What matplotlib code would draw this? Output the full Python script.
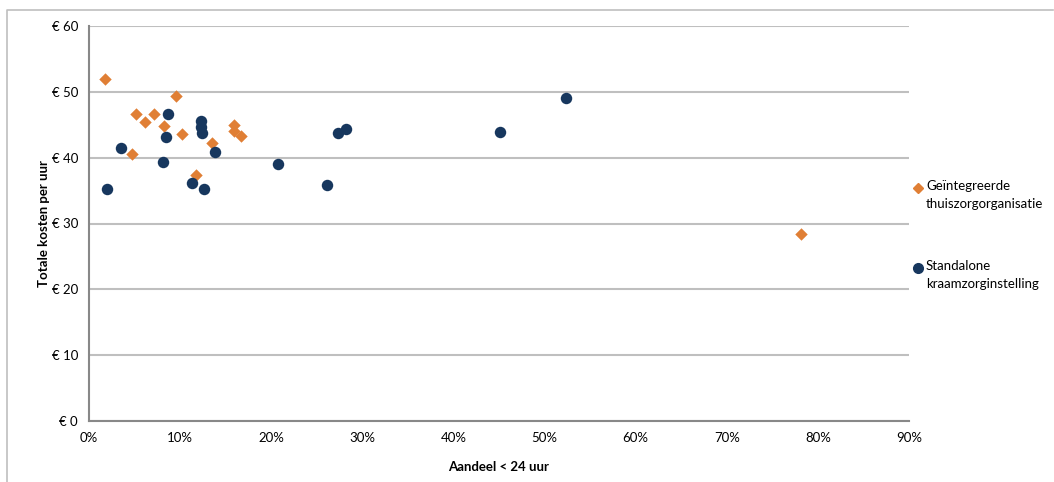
import matplotlib
matplotlib.use("Agg")
import matplotlib.pyplot as plt
from matplotlib.lines import Line2D

# Data (share < 24 uur in %, totale kosten per uur in €)
integrated_x = [1.8, 5.2, 6.2, 7.1, 9.6, 8.2, 4.75, 10.2, 13.5, 11.7, 15.9, 15.95, 16.7, 78.2]
integrated_y = [51.9, 46.6, 45.4, 46.7, 49.4, 44.8, 40.5, 43.6, 42.3, 37.4, 45.0, 44.1, 43.3, 28.4]

standalone_x = [2.0, 3.55, 8.1, 8.7, 8.45, 12.3, 12.25, 12.4, 13.8, 11.3, 12.65, 20.7, 26.1, 27.3, 28.2, 45.1, 52.3]
standalone_y = [35.2, 41.4, 39.4, 46.7, 43.2, 45.6, 44.6, 43.7, 40.9, 36.2, 35.2, 39.0, 35.9, 43.8, 44.3, 43.85, 49.1]

x_ticks = [0, 10, 20, 30, 40, 50, 60, 70, 80, 90]
x_labels = [f"{v}%" for v in x_ticks]
y_ticks = [0, 10, 20, 30, 40, 50, 60]
y_labels = [f"€ {v}" for v in y_ticks]

series_names = ["Geïntegreerde\nthuiszorgorganisatie", "Standalone\nkraamzorginstelling"]
orange = "#E07F35"
navy = "#17375E"

plt.rcParams['font.family'] = ['Lato', 'DejaVu Sans']

fig = plt.figure(figsize=(10.54, 4.82), dpi=100)
W, H = 1054, 482
ax = fig.add_axes([89 / W, 1 - 421 / H, (909 - 89) / W, (421 - 26) / H])

ax.scatter(integrated_x, integrated_y, marker="D", s=40, color=orange, zorder=3, linewidths=0)
ax.scatter(standalone_x, standalone_y, marker="o", s=68, color=navy, zorder=3, linewidths=0)

ax.set_xlim(0, 90)
ax.set_ylim(0, 60)
ax.set_xticks(x_ticks)
ax.set_xticklabels(x_labels, fontsize=9.5)
ax.set_yticks(y_ticks)
ax.set_yticklabels(y_labels, fontsize=9.5)
ax.tick_params(length=0, pad=8, colors="black")
ax.grid(axis="y", color="#BFBFBF", linewidth=1.5)
ax.set_axisbelow(True)
for s in ["top", "right"]:
    ax.spines[s].set_visible(False)
for s in ["left", "bottom"]:
    ax.spines[s].set_color("#888888")
    ax.spines[s].set_linewidth(1.5)

ax.set_xlabel("Aandeel < 24 uur", fontsize=9.5, fontweight="bold", labelpad=12)
ax.set_ylabel("Totale kosten per uur", fontsize=9.5, fontweight="bold", labelpad=1)

# Legend on the right
fig.lines.append(Line2D([918 / W], [1 - 188 / H], marker="D", markersize=5.5, color=orange,
                        linestyle="none", transform=fig.transFigure))
fig.text(926 / W, 1 - 180 / H, series_names[0], fontsize=9.5, va="top", ha="left", linespacing=1.55)
fig.lines.append(Line2D([918 / W], [1 - 268 / H], marker="o", markersize=7, color=navy,
                        linestyle="none", transform=fig.transFigure))
fig.text(926 / W, 1 - 260 / H, series_names[1], fontsize=9.5, va="top", ha="left", linespacing=1.55)

# Chart border (left and top)
fig.lines.append(Line2D([7 / W, 7 / W, 1053 / W], [0, 1 - 10 / H, 1 - 10 / H],
                        color="#BFBFBF", linewidth=1.2, transform=fig.transFigure))

fig.savefig("out.png", dpi=100)
